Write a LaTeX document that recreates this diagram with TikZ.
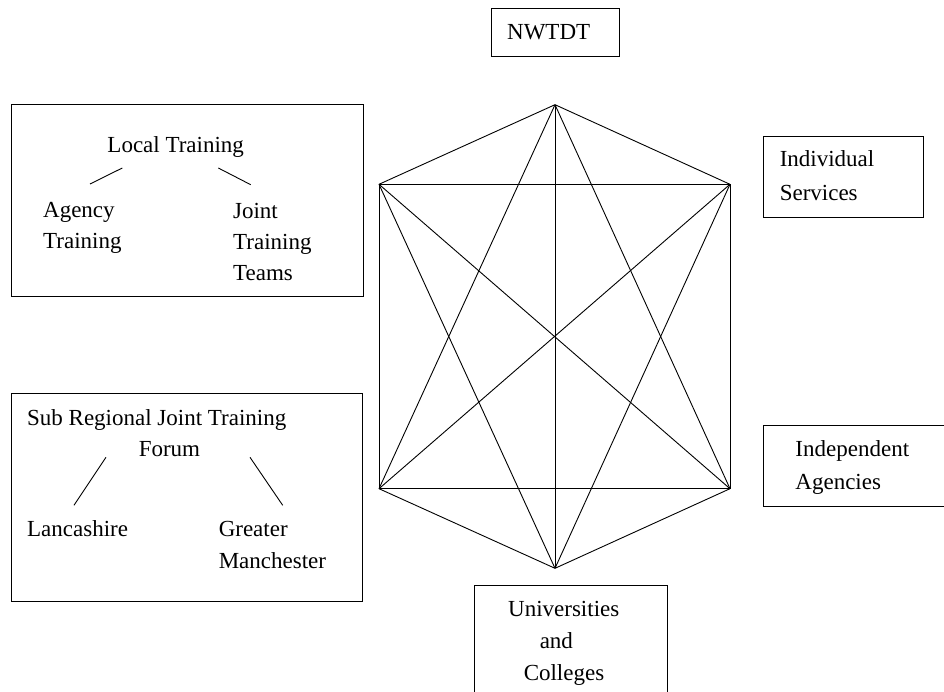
\documentclass[tikz,border=0pt]{standalone}
\usepackage{fontspec}
\setmainfont{Liberation Serif}
\usetikzlibrary{positioning}

\begin{document}
\begin{tikzpicture}[x=1pt,y=-1pt,line width=0.9pt,
	box/.style={draw,inner sep=0pt,anchor=north west},
	lbl/.style={inner sep=0pt,anchor=base west,align=left,font=\fontsize{23}{31}\selectfont}]
	\useasboundingbox (0,0) rectangle (944,692);
	\clip (0,0) rectangle (944,692);
	% boxes
	\node[box,minimum width=128pt,minimum height=48pt] (nbox) at (490.7,8) {};
	\node[box,minimum width=352pt,minimum height=192pt] (lbox) at (10.7,104) {};
	\node[box,minimum width=351.3pt,minimum height=208pt] (sbox) at (10.7,392.7) {};
	\node[box,minimum width=160.6pt,minimum height=80.7pt] (ibox) at (762.7,136) {};
	\node[box,minimum width=200pt,minimum height=81.3pt] (abox) at (762.7,424.7) {};
	\node[box,minimum width=192.7pt,minimum height=150pt] (ubox) at (474,584.7) {};
	% texts (multi-line ones sit on their last baseline)
	\node[lbl] (nwtdt) at (506.7,40) {NWTDT};
	\node[lbl] (local) at (107,153) {Local Training};
	\node[lbl] (agency) at (42.7,249) {Agency\\Training};
	\node[lbl] (joint) at (232.7,280) {Joint\\Training\\Teams};
	\node[lbl] (subreg) at (26.7,425) {Sub Regional Joint Training};
	\node[lbl] (forum) at (138.3,456.7) {Forum};
	\node[lbl] (lanc) at (26.7,536.7) {Lancashire};
	\node[lbl,font=\fontsize{23}{31.6}\selectfont] (greater) at (218.3,568.3) {Greater\\Manchester};
	\node[lbl,font=\fontsize{23}{34}\selectfont] (indiv) at (779.3,200.7) {Individual\\Services};
	\node[lbl,font=\fontsize{23}{32.6}\selectfont] (indep) at (795,489.3) {Independent\\Agencies};
	\node[lbl] (univ) at (507.7,616.7) {Universities};
	\node[lbl] (und) at (539.3,648.3) {and};
	\node[lbl] (coll) at (523.3,680) {Colleges};
	% tree strokes
	\coordinate (la1) at (122.3,168);
	\coordinate (la2) at (90,184);
	\coordinate (lj1) at (218.3,168);
	\coordinate (lj2) at (250.7,184.7);
	\coordinate (sl1) at (106,457.3);
	\coordinate (sl2) at (74,505.3);
	\coordinate (sg1) at (250,457.3);
	\coordinate (sg2) at (282.7,505.3);
	\path (la1) edge (la2);
	\path (lj1) edge (lj2);
	\path (sl1) edge (sl2);
	\path (sg1) edge (sg2);
	% hexagon
	\coordinate (t) at (555,104.7);
	\coordinate (ul) at (379,184.3);
	\coordinate (ur) at (730,184.3);
	\coordinate (ll) at (379,488.7);
	\coordinate (lr) at (730,488.7);
	\coordinate (b) at (555,568.3);
	\path (t) edge (ul);
	\path (t) edge (ur);
	\path (ul) edge (ll);
	\path (ur) edge (lr);
	\path (ll) edge (b);
	\path (lr) edge (b);
	\path (t) edge (ll);
	\path (t) edge (lr);
	\path (b) edge (ul);
	\path (b) edge (ur);
	\path (ul) edge (ur);
	\path (ll) edge (lr);
	\path (t) edge (b);
	\path (ul) edge (lr);
	\path (ur) edge (ll);
\end{tikzpicture}
\end{document}
